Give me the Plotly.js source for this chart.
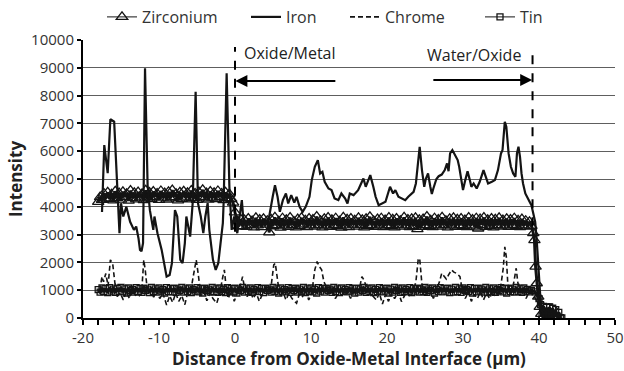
<!DOCTYPE html>
<html>
<head>
<meta charset="utf-8">
<script src="https://cdn.plot.ly/plotly-3.0.1.min.js"></script>
<style>html,body{margin:0;padding:0;background:#fff;}#chart{width:624px;height:371px;}</style>
</head>
<body>
<div id="chart"></div>
<script>
// evenly spaced sampling grid helper (positions only)
function grid(start, step, n) { const a = []; for (let i = 0; i < n; i++) a.push(+(start + i * step).toFixed(2)); return a; }

// ---------- Zirconium (triangle markers) ----------
// metal side, x = -18 .. -0.5 step 0.25
const zrMetalY = [4180,4350,4250,4480,4300,4520,4280,4450,4230,4560,
  4320,4490,4260,4540,4350,4470,4220,4580,4310,4500,
  4270,4530,4340,4460,4240,4590,4300,4510,4280,4550,
  4360,4480,4250,4570,4330,4490,4260,4540,4300,4600,
  4350,4470,4230,4520,4290,4560,4340,4500,4270,4580,
  4310,4480,4250,4530,4360,4610,4300,4490,4260,4550,
  4330,4500,4280,4570,4350,4480,4240,4520,4310,4460,4280];
// interface
const zrIfX = [-0.25, 0, 0.25, 0.5, 0.75];
const zrIfY = [4150, 3800, 3500, 3300, 3550];
// oxide side, x = 1.0 .. 39.0 step 0.25
const zrOxideY = [3300,3520,3280,3580,3350,3490,3260,3600,3330,3540,
  3270,3570,3360,3500,3080,3550,3300,3620,3340,3480,
  3250,3590,3320,3530,3280,3610,3350,3470,3260,3560,
  3310,3600,3370,3510,3270,3580,3330,3540,3290,3650,
  3340,3500,3260,3570,3320,3610,3280,3530,3350,3590,
  3300,3480,3250,3620,3330,3550,3270,3580,3360,3510,
  3290,3600,3340,3530,3260,3570,3310,3640,3350,3490,
  3280,3560,3320,3590,3270,3520,3340,3610,3300,3550,
  3260,3580,3350,3500,3290,3620,3330,3540,3270,3570,
  3310,3600,3200,3530,3280,3560,3340,3650,3300,3510,
  3270,3590,3330,3540,3290,3620,3350,3500,3260,3570,
  3320,3600,3280,3550,3340,3580,3300,3520,3270,3610,
  3330,3540,3290,3590,3220,3560,3350,3610,3280,3530,
  3310,3580,3260,3550,3340,3600,3290,3520,3320,3570,
  3280,3540,3350,3590,3300,3510,3270,3560,3330,3500,
  3290,3460,3310];
// water side drop
const zrDropX = [39.25, 39.4, 39.55, 39.7, 39.9, 40.1, 40.3, 40.6, 41, 41.5];
const zrDropY = [3050, 2800, 1850, 1250, 770, 400, 150, 50, 20, 0];

// ---------- Iron (solid line) ----------
const feX = [-17.5,-17.2,-16.75,-16.4,-15.9,-15.2,-15.0,-14.7,-14.3,-13.8,-13.3,-13.0,-12.7,-12.5,-12.3,-12.1,-11.84,-11.5,-11.2,-10.75,-10.6,-10.2,-9.65,-9.34,-9.0,-8.6,-8.3,-7.9,-7.6,-7.2,-6.9,-6.6,-6.4,-5.9,-5.57,-5.18,-4.87,-4.5,-4.17,-3.9,-3.6,-3.38,-2.9,-2.54,-2.2,-1.9,-1.6,-1.5,-1.1,-0.74,-0.44,-0.1,
  0.3,0.9,1.1,1.6,2.2,2.8,3.4,4.0,4.5,4.96,5.26,5.6,5.9,6.3,6.7,7.0,7.4,7.8,8.1,8.5,8.9,9.3,9.8,10.1,10.5,10.9,11.2,11.5,11.8,12.3,12.7,13.1,13.6,14.0,14.5,14.8,15.1,15.6,16.2,16.7,16.9,17.2,17.8,18.2,18.5,18.9,19.3,19.8,20.2,20.4,20.8,21.1,21.5,21.9,22.4,22.8,23.2,23.5,23.8,24.1,24.3,24.6,24.9,25.1,25.4,25.7,25.9,26.1,26.5,26.8,27.2,27.6,27.9,28.1,28.3,28.6,28.9,29.3,29.5,29.8,30.0,30.3,30.6,30.9,31.1,31.4,31.8,32.2,32.7,33.0,33.3,33.8,34.2,34.6,35.0,35.2,35.5,35.7,36.0,36.3,36.6,36.9,37.1,37.3,37.5,37.7,37.9,38.2,38.6,39.0,39.25,39.5,39.7,39.9,40.0,40.2,40.5,41.0,42.0];
const feY = [3810,6220,5210,7150,7060,3050,4130,3650,4000,3460,3170,3290,2870,2450,2400,2690,8980,4780,3880,3170,3650,3050,2450,1970,1490,1550,1970,3880,3650,2090,1970,2690,3650,2930,4130,8140,4130,3650,3050,3650,4130,3170,2090,1730,1970,2690,3410,4130,8800,4720,3170,3650,
  3050,4240,3530,3350,3450,3300,3420,3350,3650,4360,4780,4360,3820,4240,4480,4120,4420,4150,4360,4000,3820,4000,4360,4960,5440,5680,5200,5260,4900,4660,4600,4300,4240,4480,4300,4120,4480,4420,4600,4900,5020,4720,5140,4720,4360,4060,4120,4180,4540,4720,4480,4600,4360,4300,4240,4360,4480,4540,4840,5560,6160,5320,4720,5000,5200,4720,4460,4660,5000,5100,5160,5320,5560,5280,5920,6040,5860,5680,5440,4840,4600,4960,5280,4960,4720,4840,4660,4900,5320,5080,4840,4900,4960,5320,5920,6040,7060,6880,5920,5440,5200,5080,5920,6160,5800,5200,4840,4480,4240,4060,3760,3460,2800,2080,1370,650,50,20,0];

// ---------- Chrome (dashed line) ----------
const crX = [-17.8,-17.5,-17.3,-17.0,-16.7,-16.4,-16.1,-15.8,-15.5,-15.1,-14.7,-14.3,-13.9,-13.5,-13.1,-12.7,-12.3,-12.0,-11.8,-11.5,-11.1,-10.7,-10.3,-9.9,-9.5,-9.0,-8.6,-8.2,-7.8,-7.4,-7.0,-6.6,-6.2,-5.8,-5.5,-5.1,-4.8,-4.5,-4.1,-3.7,-3.3,-2.9,-2.4,-2.0,-1.6,-1.4,-1.2,-0.9,-0.5,-0.1,
  0.3,0.66,1.0,1.3,1.6,2.0,2.4,2.8,3.2,3.6,4.0,4.4,4.8,5.1,5.3,5.6,5.9,6.3,6.7,7.1,7.5,8.1,8.5,8.9,9.3,9.7,10.1,10.5,10.8,11.1,11.4,11.7,12.0,12.4,12.8,13.2,13.6,14.0,14.4,14.8,15.2,15.6,16.0,16.4,16.7,17.0,17.3,17.7,18.1,18.6,19.0,19.4,19.8,20.2,20.6,21.0,21.5,21.9,22.3,22.7,23.1,23.5,23.8,24.1,24.3,24.6,24.9,25.3,25.7,26.1,26.5,26.9,27.2,27.5,27.8,28.1,28.5,28.8,29.2,29.6,29.9,30.3,30.7,31.1,31.5,31.9,32.3,32.7,33.1,33.5,33.9,34.3,34.7,35.0,35.3,35.5,35.7,35.9,36.2,36.5,36.8,37.0,37.2,37.5,37.9,38.3,38.7,39.1,39.5,40.0,41.0,42.0,42.5,43.0];
const crY = [1000,1490,1300,1600,1150,2090,1970,1250,770,900,650,950,700,1000,820,770,880,2090,1700,900,1000,750,980,700,900,470,800,560,900,600,800,480,950,1000,1490,2090,1500,800,950,620,900,700,530,900,1490,1730,1200,700,980,600,
  900,1130,1490,1000,770,950,700,900,600,850,1000,900,1250,1910,1970,1300,770,950,650,900,700,530,900,780,1000,650,900,1730,2030,1850,1730,1300,1100,900,1000,700,900,1100,800,950,700,1000,900,1100,1490,1350,1100,900,800,650,900,500,850,600,900,700,950,590,800,950,750,1000,1300,2090,2150,1200,950,850,1000,700,1000,1300,1610,1500,1400,1550,1730,1650,1600,1490,1000,700,950,600,850,700,950,650,900,700,1000,750,950,1200,1800,2560,2200,1200,900,1000,1400,1790,1300,900,1000,700,950,900,700,550,520,480,300,0];

// ---------- Tin (small square markers) ----------
// x = -18 .. 39 step 0.25
const snBandY = [1020,930,1080,950,1060,910,1090,970,1040,920,
  1070,960,1100,940,1050,900,1080,980,1030,930,
  1090,950,1060,920,1070,990,1040,910,1100,960,
  1050,930,1080,970,1020,900,1090,950,1060,940,
  1070,920,1040,980,1100,930,1050,960,1080,910,
  1030,970,1090,940,1060,900,1070,990,1040,930,
  1100,950,1050,920,1080,960,1030,910,1090,970,
  1060,940,1070,900,1040,980,1100,930,1050,960,
  1080,920,1030,970,1090,950,1060,910,1070,990,
  1040,930,1100,960,1050,900,1080,940,1020,970,
  1090,920,1060,980,1070,930,1040,950,1100,910,
  1050,960,1080,940,1030,900,1090,970,1060,930,
  1070,990,1040,920,1100,950,1050,910,1080,960,
  1030,940,1090,970,1060,900,1070,930,1040,980,
  1100,920,1050,960,1080,910,1030,950,1090,940,
  1060,970,1070,900,1040,930,1100,990,1050,920,
  1080,960,1030,940,1090,910,1060,970,1070,930,
  1040,950,1100,920,1050,980,1080,900,1030,960,
  1090,940,1060,970,1070,910,1040,930,1100,950,
  1050,920,1080,990,1030,960,1090,900,1060,940,
  1070,970,1040,930,1100,910,1050,960,1080,920,
  1030,980,1090,940,1060,900,1070,950,1040,930,
  1100,960,1050,920,1080,970,1030,940,990];
const snTailX = [39.5,40,40.2,40.4,40.6,40.8,41,41.2,41.4,41.6,41.8,42,42.2,42.4,42.6,42.8,43];
const snTailY = [940,700,480,80,420,60,380,40,400,50,350,30,300,20,200,10,0];

// assemble
const zrX = grid(-18, 0.25, zrMetalY.length).concat(zrIfX, grid(1, 0.25, zrOxideY.length), zrDropX);
const zrY = zrMetalY.concat(zrIfY, zrOxideY, zrDropY);
const snX = grid(-18, 0.25, snBandY.length).concat(snTailX);
const snY = snBandY.concat(snTailY);

const ink = '#141414';
const fontFam = '"Open Sans", "DejaVu Sans", sans-serif';

const traces = [
  // dense under-strokes of the noisy bands (same data, no legend entry)
  {x: zrX, y: zrY, type: 'scatter', mode: 'lines', showlegend: false, hoverinfo: 'skip',
   line: {color: ink, width: 3}},
  {x: snX, y: snY, type: 'scatter', mode: 'lines', showlegend: false, hoverinfo: 'skip',
   line: {color: ink, width: 3}},
  {x: zrX, y: zrY, name: 'Zirconium', type: 'scatter', mode: 'lines+markers', legend: 'legend',
   line: {color: ink, width: 1}, marker: {symbol: 'triangle-up-open', size: 10, color: ink, line: {width: 1.3}}},
  {x: feX, y: feY, name: 'Iron', type: 'scatter', mode: 'lines', legend: 'legend2',
   line: {color: ink, width: 2.2}},
  {x: crX, y: crY, name: 'Chrome', type: 'scatter', mode: 'lines', legend: 'legend3',
   line: {color: ink, width: 1.6, dash: '5px,3px'}},
  {x: snX, y: snY, name: 'Tin', type: 'scatter', mode: 'lines+markers', legend: 'legend4',
   line: {color: ink, width: 1}, marker: {symbol: 'square-open', size: 6, color: ink, line: {width: 1.3}}}
];

const xTickVals = [-20, -10, 0, 10, 20, 30, 40, 50];
const xTickText = ['-20', '-10', '0', '10', '20', '30', '40', '50'];
const minorVals = [];
for (let v = -18; v < 50; v += 2) if (v % 10 !== 0) minorVals.push(v);

function leg(px) {
  return {orientation: 'h', xref: 'container', yref: 'container', x: px / 624, xanchor: 'left',
          y: 1 - 17 / 371, yanchor: 'middle', font: {size: 16, color: '#333'}, bgcolor: 'rgba(0,0,0,0)'};
}

const layout = {
  width: 624, height: 371,
  margin: {l: 83, r: 9, t: 40, b: 53},
  paper_bgcolor: '#fff', plot_bgcolor: '#fff',
  font: {family: fontFam, color: '#333', size: 15},
  showlegend: true,
  legend: leg(102), legend2: leg(246), legend3: leg(345), legend4: leg(480),
  xaxis: {range: [-20, 50], tickmode: 'array', tickvals: xTickVals, ticktext: xTickText,
          showgrid: false, zeroline: false,
          showline: true, linecolor: '#000', linewidth: 2,
          ticks: 'outside', ticklen: 5, tickwidth: 2, tickcolor: '#000',
          minor: {tickmode: 'array', tickvals: minorVals, ticks: 'outside', ticklen: 5, tickwidth: 2, tickcolor: '#000', showgrid: false},
          tickfont: {size: 15, color: '#333'},
          title: {text: 'Distance from Oxide-Metal Interface (µm)', font: {size: 17, color: '#222', weight: 'bold'}, standoff: 4}},
  yaxis: {range: [0, 10000], dtick: 1000, tickformat: 'd', showgrid: true, gridcolor: '#5e5e5e', gridwidth: 1, zeroline: false,
          showline: true, linecolor: '#000', linewidth: 2,
          ticks: 'outside', ticklen: 4, tickwidth: 2, tickcolor: '#000',
          tickfont: {size: 15, color: '#333'},
          title: {text: 'Intensity', font: {size: 17, color: '#222', weight: 'bold'}, standoff: 4}},
  shapes: [
    {type: 'line', xref: 'x', yref: 'y', x0: 0, x1: 0, y0: 3100, y1: 9750, line: {color: '#000', width: 2, dash: 'dash'}},
    {type: 'line', xref: 'x', yref: 'y', x0: 39.15, x1: 39.15, y0: 3300, y1: 9750, line: {color: '#000', width: 2, dash: 'dash'}}
  ],
  annotations: [
    {x: 0.9, y: 9530, xref: 'x', yref: 'y', text: 'Oxide/Metal', showarrow: false, xanchor: 'left', yanchor: 'middle', font: {size: 16, color: '#222'}},
    {x: 37.9, y: 9460, xref: 'x', yref: 'y', text: 'Water/Oxide', showarrow: false, xanchor: 'right', yanchor: 'middle', font: {size: 16, color: '#222'}},
    {x: 0.05, y: 8525, ax: 13.4, ay: 8525, xref: 'x', yref: 'y', axref: 'x', ayref: 'y', text: '', showarrow: true, arrowhead: 2, arrowsize: 1.2, arrowwidth: 2, arrowcolor: '#000'},
    {x: 39.1, y: 8560, ax: 25.9, ay: 8560, xref: 'x', yref: 'y', axref: 'x', ayref: 'y', text: '', showarrow: true, arrowhead: 2, arrowsize: 1.2, arrowwidth: 2, arrowcolor: '#000'}
  ]
};

Plotly.newPlot('chart', traces, layout, {displayModeBar: false, staticPlot: true});
</script>
</body>
</html>
